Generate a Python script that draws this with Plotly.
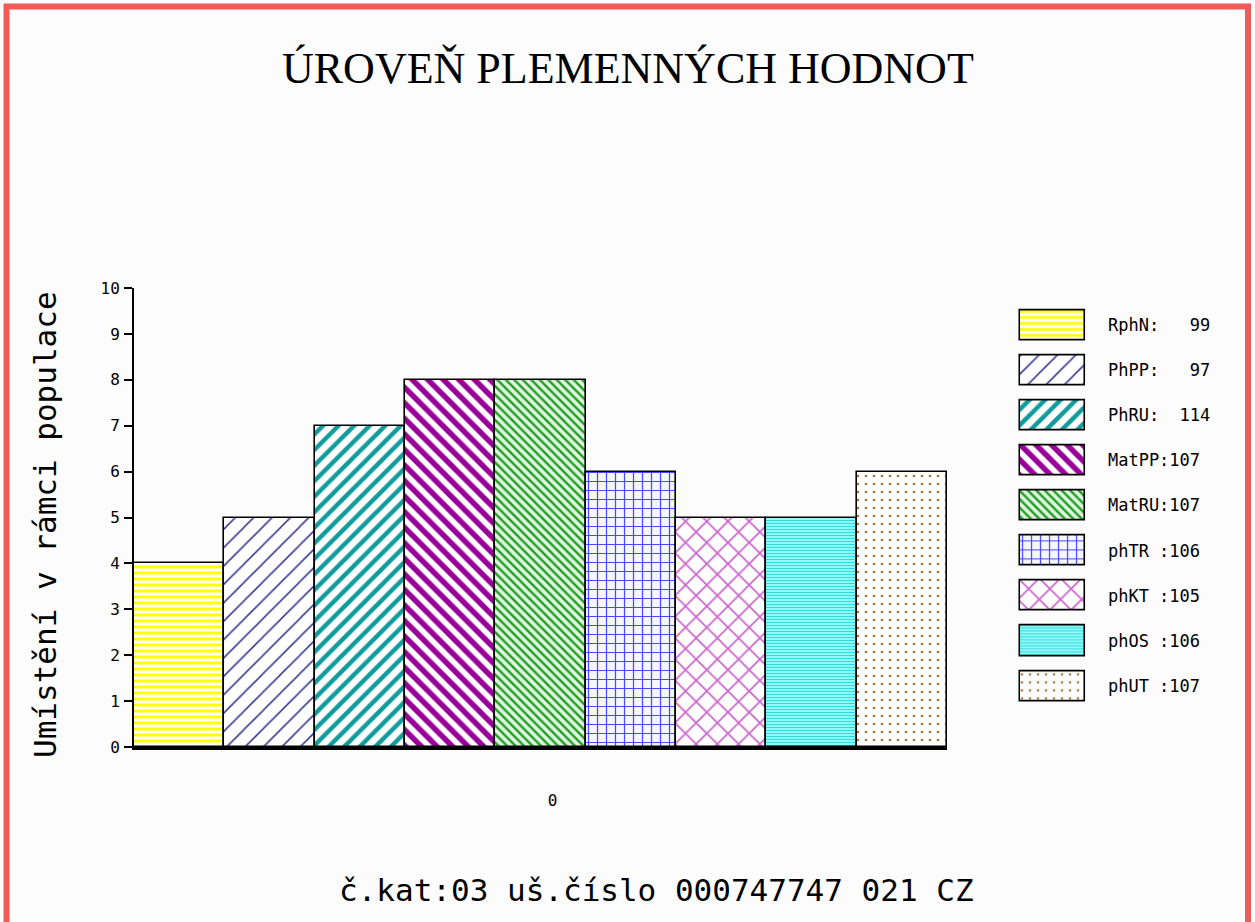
import plotly.graph_objects as go

# ---- data ----
series_names = ["RphN", "PhPP", "PhRU", "MatPP", "MatRU", "phTR", "phKT", "phOS", "phUT"]
placement = [4, 5, 7, 8, 8, 6, 5, 5, 6]          # Umístění v rámci populace
breeding_values = [99, 97, 114, 107, 107, 106, 105, 106, 107]
legend_labels = ["RphN:   99", "PhPP:   97", "PhRU:  114", "MatPP:107", "MatRU:107",
                 "phTR :106", "phKT :105", "phOS :106", "phUT :107"]
category = ["0"]
y_ticks = list(range(0, 11))

title_text = "ÚROVEŇ PLEMENNÝCH HODNOT"
y_title = "Umístění v rámci populace"
footer = "č.kat:03 uš.číslo 000747747 021 CZ"

# ---- styles ----
pat_shape = ["-", "/", "/", "\\", "\\", "+", "x", "-", "."]
pat_fg = ["#ffff00", "#3c3c90", "#109c9c", "#990099", "#1f9f1f", "#4848ff", "#cc66cc", "#30dede", "#b8702c"]
pat_bg = ["#ffffff", "#ffffff", "#ffffff", "#ffffff", "#e2f3e2", "#f6f6ff", "#ffffff", "#a6ffff", "#ffffff"]
pat_size = [6, 13, 11, 11, 6, 9, 15, 3, 8]
pat_sol = [0.5, 0.12, 0.4, 0.5, 0.4, 0.25, 0.22, 0.45, 0.08]

W, H = 1255, 922
ML, MR, MT, MB = 134, 0, 288, 175
PW = W - ML - MR
PH = H - MT - MB

def px(x):
    return (x - ML) / PW

def py(y):
    return (H - MB - y) / PH

mono = "DejaVu Sans Mono"

fig = go.Figure()

for i, name in enumerate(series_names):
    fig.add_trace(go.Bar(
        x=category, y=[placement[i]], name=name,
        marker=dict(
            color=pat_bg[i],
            line=dict(color="black", width=1.6),
            pattern=dict(shape=pat_shape[i], fgcolor=pat_fg[i], bgcolor=pat_bg[i],
                         size=pat_size[i], solidity=pat_sol[i], fillmode="replace"),
        ),
        showlegend=False, hoverinfo="skip",
        xaxis="x", yaxis="y",
    ))

# legend boxes drawn as patterned bars on a hidden subplot (one trace per series)
for i, name in enumerate(series_names):
    fig.add_trace(go.Bar(
        y=[legend_labels[i]], x=[1], orientation="h",
        width=0.665, offsetgroup="legend",
        marker=dict(
            color=pat_bg[i],
            line=dict(color="black", width=1.6),
            pattern=dict(shape=pat_shape[i], fgcolor=pat_fg[i], bgcolor=pat_bg[i],
                         size=pat_size[i], solidity=pat_sol[i], fillmode="replace"),
        ),
        showlegend=False, hoverinfo="skip",
        xaxis="x2", yaxis="y2",
    ))

fig.update_layout(
    width=W, height=H,
    margin=dict(l=ML, r=MR, t=MT, b=MB, pad=0),
    paper_bgcolor="#fcfcfc",
    plot_bgcolor="rgba(0,0,0,0)",
    barmode="group", bargap=0, bargroupgap=0,
    showlegend=False,
    xaxis=dict(
        domain=[0, px(947)], type="category",
        showline=True, linecolor="black", linewidth=3,
        ticks="", showgrid=False, zeroline=False,
        tickfont=dict(family=mono, size=16, color="black"),
        ticklabelstandoff=37, ticklabelshift=12,
    ),
    yaxis=dict(
        domain=[0, 1], range=[0, 10], tickvals=y_ticks,
        showline=True, linecolor="black", linewidth=2,
        ticks="outside", ticklen=8, tickwidth=2, tickcolor="black",
        showgrid=False, zeroline=False,
        tickfont=dict(family=mono, size=16, color="black"),
        ticklabelstandoff=1,
    ),
    xaxis2=dict(
        domain=[px(1018.05), px(1086.95)], range=[-0.03, 1.03], anchor="y2",
        visible=False, fixedrange=True,
    ),
    yaxis2=dict(
        domain=[py(708.6), py(302.4)], anchor="x2", side="right",
        type="category", categoryorder="array", categoryarray=legend_labels,
        autorange="reversed",
        showline=False, ticks="", showgrid=False, zeroline=False,
        tickfont=dict(family=mono, size=17, color="black"),
        ticklabelstandoff=20,
    ),
    font=dict(family=mono, color="black"),
)

fig.add_annotation(
    text=title_text, xref="paper", yref="paper", x=px(627.5), y=py(68),
    xanchor="center", yanchor="middle", showarrow=False,
    font=dict(family="Liberation Serif", size=44, color="black"),
)
fig.add_annotation(
    text=y_title, xref="paper", yref="paper", x=px(45), y=py(525),
    xanchor="center", yanchor="middle", showarrow=False, textangle=-90,
    font=dict(family=mono, size=31, color="black"),
)
fig.add_annotation(
    text=footer, xref="paper", yref="paper", x=px(656), y=py(890),
    xanchor="center", yanchor="middle", showarrow=False,
    font=dict(family=mono, size=31, color="black"),
)

# red frame around the picture
fig.add_shape(
    type="rect", xref="paper", yref="paper",
    x0=px(6.5), x1=px(1248), y0=py(940), y1=py(6.5),
    line=dict(color="#f25a5a", width=6), fillcolor="rgba(0,0,0,0)", layer="above",
)

fig.write_html("out.html", config={"displayModeBar": False},
               post_script="document.body.style.margin='0';")
